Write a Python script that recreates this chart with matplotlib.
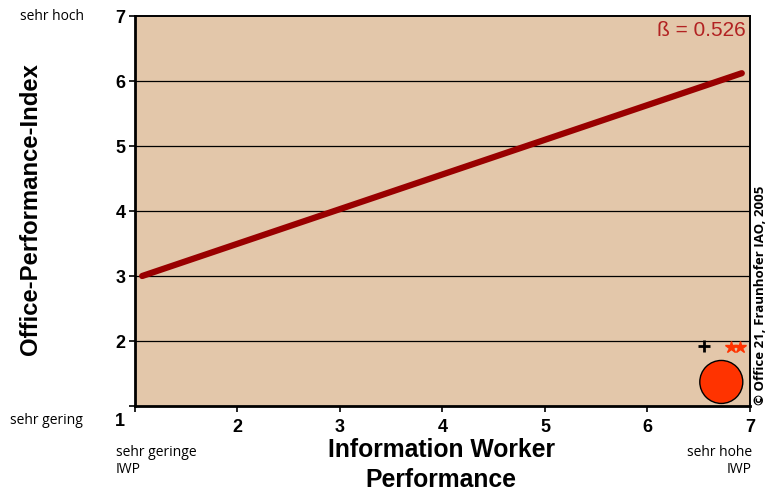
import matplotlib
matplotlib.use('Agg')
import matplotlib.pyplot as plt
from matplotlib.patches import Ellipse

# regression line end points (data coords)
line_x = [1.07, 6.92]
line_y = [3.0, 6.12]
beta_text = 'ß = 0.526'

plus_xy = (6.55, 1.92)
stars_x = [6.81, 6.90]
stars_y = [1.91, 1.91]
circle_xy = (6.72, 1.37)

ticks = [1, 2, 3, 4, 5, 6, 7]

bg = '#E3C7AA'
fig = plt.figure(figsize=(7.66, 4.91), dpi=100)
ax = fig.add_axes([135/766, 1 - 406/491, 615/766, 390/491])
ax.set_facecolor(bg)
ax.set_xlim(1, 7)
ax.set_ylim(1, 7)

for y in ticks[1:-1]:
    ax.axhline(y, color='black', lw=0.9, zorder=1)

ax.plot(line_x, line_y, color='#990000', lw=4.5, solid_capstyle='round', zorder=3)

ax.plot(*plus_xy, marker='+', color='black', ms=9, mew=2, zorder=4)
ax.plot(stars_x, stars_y, ls='none', marker='*', color='#FF3300', ms=9, zorder=4)

# circle: x spans 6 units over 615 px, y 6 units over 390 px
r_px = 21.5
circ = Ellipse(circle_xy, width=2 * r_px * 6 / 615, height=2 * r_px * 6 / 390,
               facecolor='#FF3300', edgecolor='black', lw=1, zorder=4)
ax.add_patch(circ)

ax.text(6.96, 6.78, beta_text, ha='right', va='center', color='#B22222',
        fontsize=15, family='Liberation Sans')

tick_font = dict(fontsize=13, fontweight='bold', family='Liberation Sans')
ax.set_xticks(ticks)
ax.set_yticks(ticks)
ax.set_xticklabels([''] + ticks[1:], **tick_font)
ax.set_yticklabels([''] + ticks[1:], **tick_font)
ax.tick_params(direction='out', length=4, width=1.2, pad=3)
ax.tick_params(axis='x', pad=5)
fig.text(120/766, 1 - 421/491, '1', ha='center', va='center', **tick_font)

for s in ['left', 'bottom']:
    ax.spines[s].set_linewidth(2)
for s in ['top', 'right']:
    ax.spines[s].set_linewidth(1.4)

ax.set_ylabel('Office-Performance-Index', fontsize=17.2, fontweight='bold',
              family='Liberation Sans')
ax.yaxis.set_label_coords(-0.152, 0.505)

fig.text(441/766, 1 - 465/491, 'Information Worker\nPerformance', ha='center', va='center',
         fontsize=17.8, fontweight='bold', family='Liberation Sans', linespacing=1.35)

small = dict(fontsize=10, family='Open Sans', color='black')
fig.text(20/766, 1 - 16/491, 'sehr hoch', ha='left', va='center', **small)
fig.text(10/766, 1 - 420/491, 'sehr gering', ha='left', va='center', **small)
fig.text(116/766, 1 - 461/491, 'sehr geringe\nIWP', ha='left', va='center', linespacing=1.1, **small)
fig.text(752/766, 1 - 461/491, 'sehr hohe\nIWP', ha='right', va='center', linespacing=1.1,
         multialignment='right', **small)

fig.text(761/766, 1 - 295/491, '© Office 21, Fraunhofer IAO, 2005', rotation=90,
         ha='center', va='center', fontsize=9.5, fontweight='bold', family='Open Sans')

fig.savefig('out.png', dpi=100)
